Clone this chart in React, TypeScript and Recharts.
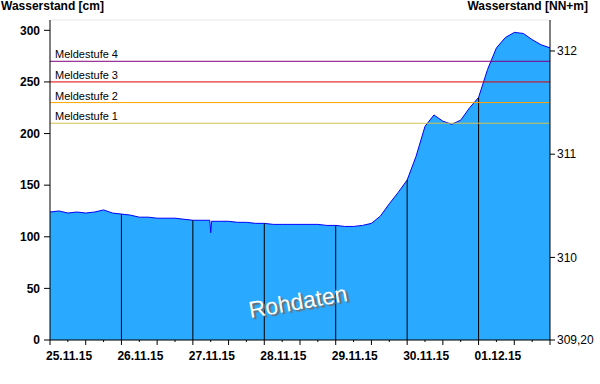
import {
  ComposedChart,
  Area,
  Line,
  XAxis,
  YAxis,
  CartesianGrid,
  ReferenceLine,
} from "recharts"

// hours since 25.11.15 00:00
const hours = [
  0, 3, 6, 9, 12, 15, 18, 21, 24, 27, 30, 33, 36, 39, 42, 45, 48, 51, 53.7, 54, 54.3, 57, 60, 63,
  66, 69, 72, 75, 78, 81, 84, 87, 90, 93, 96, 99, 102, 105, 108, 111, 114, 117, 120, 123, 126,
  129, 132, 135, 138, 141, 144, 147, 150, 153, 156, 159, 162, 165, 168,
]
// Wasserstand [cm]
const levels = [
  124, 125, 123, 124, 123, 124, 126, 123, 122, 121, 119, 119, 118, 118, 118, 117, 116, 116, 116, 104, 115, 115, 115, 114,
  114, 113, 113, 112, 112, 112, 112, 112, 112, 111, 111, 110, 110, 111, 113, 120, 132, 143, 155, 178, 207,
  218, 212, 209, 213, 225, 235, 262, 283, 293, 298, 297, 291, 286, 283,
]

const dayTicks = [0, 24, 48, 72, 96, 120, 144]
const dayLabels = ["25.11.15", "26.11.15", "27.11.15", "28.11.15", "29.11.15", "30.11.15", "01.12.15"]
const xTicks = [
  0, 6, 12, 18, 24, 30, 36, 42, 48, 54, 60, 66, 72, 78, 84, 90, 96, 102, 108, 114, 120, 126, 132,
  138, 144, 150, 156, 162, 168,
]
const cmTicks = [0, 50, 100, 150, 200, 250, 300]
const nnTicks = [309.2, 310, 311, 312]

const stageNames = ["Meldestufe 4", "Meldestufe 3", "Meldestufe 2", "Meldestufe 1"]
const stageLevels = [270, 250, 230, 210]
const stageColors = ["#800080", "#e00000", "#ffa500", "#d2c250"]

const NN_ZERO = 309.2

const font = "Arial, 'Liberation Sans', sans-serif"

const rows = hours.map((h, i) => ({ h, cm: levels[i], nn: NN_ZERO + levels[i] / 100 }))

function XTick(props: any) {
  const { x, y, payload } = props
  const t = payload.value
  const long = t % 12 === 0
  const idx = dayTicks.indexOf(t)
  return (
    <g>
      <line x1={x} x2={x} y1={y} y2={y + (long ? 5 : 2)} stroke="#000" />
      {idx >= 0 && (
        <text x={x - 4} y={y + 20} fontSize={12} fontWeight="bold" fill="#000" fontFamily={font}>
          {dayLabels[idx]}
        </text>
      )}
    </g>
  )
}

function StageLabel(text: string) {
  return (props: any) => {
    const { viewBox } = props
    return (
      <text x={viewBox.x + 5} y={viewBox.y - 3} fontSize={11} fill="#000" fontFamily={font}>
        {text}
      </text>
    )
  }
}

export default function App() {
  return (
    <div
      style={{
        position: "absolute",
        left: 0,
        top: 0,
        width: 600,
        height: 384,
        background: "#fff",
        fontFamily: font,
      }}
    >
      <ComposedChart
        width={600}
        height={384}
        data={rows}
        margin={{ top: 20, right: 0, bottom: 0, left: 0 }}
      >
        <CartesianGrid horizontal vertical={false} stroke="#e6e6e6" />
        <XAxis
          dataKey="h"
          type="number"
          domain={[0, 168]}
          ticks={xTicks}
          tick={<XTick />}
          tickSize={0}
          tickMargin={0}
          tickLine={false}
          axisLine={{ stroke: "#000" }}
          height={44}
          interval={0}
        />
        <YAxis
          yAxisId="cm"
          domain={[0, 310]}
          ticks={cmTicks}
          width={50}
          tickSize={6}
          tickMargin={4}
          axisLine={{ stroke: "#000" }}
          tickLine={{ stroke: "#000" }}
          tick={{ fontSize: 12, fontWeight: "bold", fill: "#000", fontFamily: font }}
          interval={0}
        />
        <YAxis
          yAxisId="nn"
          orientation="right"
          domain={[NN_ZERO, NN_ZERO + 3.1]}
          ticks={nnTicks}
          width={50}
          tickSize={5}
          tickMargin={2}
          axisLine={{ stroke: "#000" }}
          tickLine={{ stroke: "#000" }}
          tick={{ fontSize: 12, fill: "#000", fontFamily: font }}
          tickFormatter={(v: number) => (v === NN_ZERO ? "309,20" : String(v))}
          interval={0}
          allowDataOverflow
        />
        <Area
          yAxisId="cm"
          type="linear"
          dataKey="cm"
          stroke="#0000ff"
          strokeWidth={1}
          fill="#29a9ff"
          fillOpacity={1}
          isAnimationActive={false}
          dot={false}
          activeDot={false}
        />
        <Line
          yAxisId="nn"
          dataKey="nn"
          stroke="none"
          dot={false}
          activeDot={false}
          isAnimationActive={false}
        />
        {dayTicks.slice(1).map((t) => {
          const v = levels[hours.indexOf(t)]
          return (
            <ReferenceLine
              key={t}
              yAxisId="cm"
              segment={[
                { x: t, y: 0 },
                { x: t, y: v },
              ]}
              stroke="#000"
              strokeWidth={1}
            />
          )
        })}
        {stageLevels.map((lv, i) => (
          <ReferenceLine
            key={lv}
            yAxisId="cm"
            y={lv}
            stroke={stageColors[i]}
            strokeWidth={1}
            label={StageLabel(stageNames[i])}
          />
        ))}
      </ComposedChart>
      <div
        style={{
          position: "absolute",
          left: 1,
          top: 0,
          fontSize: 12,
          lineHeight: "13px",
          fontWeight: "bold",
          color: "#000",
        }}
      >
        Wasserstand [cm]
      </div>
      <div
        style={{
          position: "absolute",
          right: 12,
          top: 0,
          fontSize: 12,
          lineHeight: "13px",
          fontWeight: "bold",
          color: "#000",
        }}
      >
        Wasserstand [NN+m]
      </div>
      <div
        style={{
          position: "absolute",
          left: 298,
          top: 302,
          transform: "translate(-50%, -50%) rotate(-10deg)",
          fontSize: 23,
          color: "#fff",
          textShadow: "2px 2px 1px #6e6e6e",
          whiteSpace: "nowrap",
        }}
      >
        Rohdaten
      </div>
    </div>
  )
}
